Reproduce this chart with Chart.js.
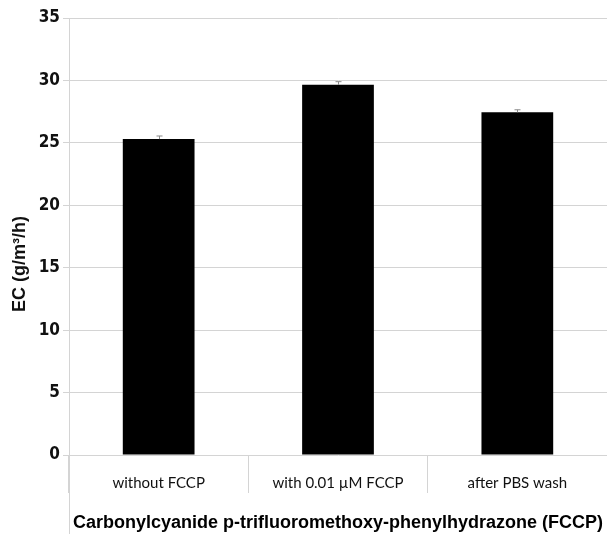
<!DOCTYPE html>
<html>
<head>
<meta charset="utf-8">
<script src="https://cdn.jsdelivr.net/npm/chart.js@4"></script>
<style>
html,body{margin:0;padding:0;background:#fff;}
#wrap{width:607px;height:534px;position:relative;}
</style>
</head>
<body>
<div id="wrap"><canvas id="c"></canvas></div>
<script>
const categories = ["without FCCP", "with 0.01 \u00b5M FCCP", "after PBS wash"];
const ecValues = [25.3, 29.65, 27.45];
const ecErrors = [0.25, 0.25, 0.2];
const yTicks = [0, 5, 10, 15, 20, 25, 30, 35];
const xTitle = "Carbonylcyanide p-trifluoromethoxy-phenylhydrazone (FCCP)";
const yTitle = "EC (g/m\u00b3/h)" + "\u00a0".repeat(11);

const gridColor = "#d4d4d4";

const errorBars = {
  id: "errorBars",
  afterDatasetsDraw(chart) {
    const ctx = chart.ctx;
    const meta = chart.getDatasetMeta(0);
    const ys = chart.scales.y;
    ctx.save();
    ctx.strokeStyle = "#8a8a8a";
    ctx.lineWidth = 1;
    meta.data.forEach((bar, i) => {
      const x = Math.round(bar.x) + 0.5;
      const top = ys.getPixelForValue(ecValues[i] + ecErrors[i]);
      const bot = ys.getPixelForValue(ecValues[i]);
      ctx.beginPath();
      ctx.moveTo(x, bot);
      ctx.lineTo(x, top);
      ctx.moveTo(x - 3, top);
      ctx.lineTo(x + 3, top);
      ctx.stroke();
    });
    ctx.restore();
  }
};

const axisExtend = {
  id: "axisExtend",
  afterDraw(chart) {
    const ctx = chart.ctx;
    const a = chart.chartArea;
    ctx.save();
    ctx.strokeStyle = gridColor;
    ctx.lineWidth = 1;
    ctx.beginPath();
    const x = Math.round(a.left) + 0.5;
    ctx.moveTo(x, a.bottom);
    ctx.lineTo(x, chart.height);
    ctx.stroke();
    ctx.restore();
  }
};

new Chart(document.getElementById("c"), {
  type: "bar",
  data: {
    labels: categories,
    datasets: [{
      data: ecValues,
      backgroundColor: "#000000",
      borderColor: "#000000",
      borderWidth: 0,
      categoryPercentage: 0.8,
      barPercentage: 0.5
    }]
  },
  options: {
    responsive: true,
    maintainAspectRatio: false,
    animation: false,
    devicePixelRatio: 1,
    layout: { padding: { top: 18, right: 0, left: 0, bottom: 0 } },
    plugins: {
      legend: { display: false },
      tooltip: { enabled: false }
    },
    scales: {
      y: {
        min: 0,
        max: 35,
        afterBuildTicks(scale) { scale.ticks = yTicks.map(v => ({ value: v })); },
        afterFit(scale) { scale.width = 69; },
        border: { display: true, color: gridColor, width: 1 },
        grid: { color: gridColor, lineWidth: 1, tickLength: 6, drawTicks: true },
        ticks: {
          color: "#111",
          padding: 3,
          font: { family: "'Liberation Sans Narrow', 'DejaVu Sans Condensed', 'Open Sans', sans-serif", size: 17, weight: "bold" }
        },
        title: {
          display: true,
          text: yTitle,
          color: "#111",
          padding: { top: 9, bottom: 0 },
          font: { family: "'Liberation Sans', Arial, sans-serif", size: 18, weight: "bold" }
        }
      },
      x: {
        afterFit(scale) { scale.height = 79; },
        border: { display: false },
        grid: {
          offset: true,
          drawOnChartArea: false,
          drawTicks: true,
          tickLength: 38,
          color: gridColor
        },
        ticks: {
          color: "#111",
          padding: -19,
          maxRotation: 0,
          font: { family: "Lato, 'Open Sans', sans-serif", size: 15 }
        },
        title: {
          display: true,
          text: xTitle,
          color: "#000",
          padding: { top: 0, bottom: 0 },
          font: { family: "'Liberation Sans', Arial, sans-serif", size: 18, weight: "bold" }
        }
      }
    }
  },
  plugins: [errorBars, axisExtend]
});
</script>
</body>
</html>
